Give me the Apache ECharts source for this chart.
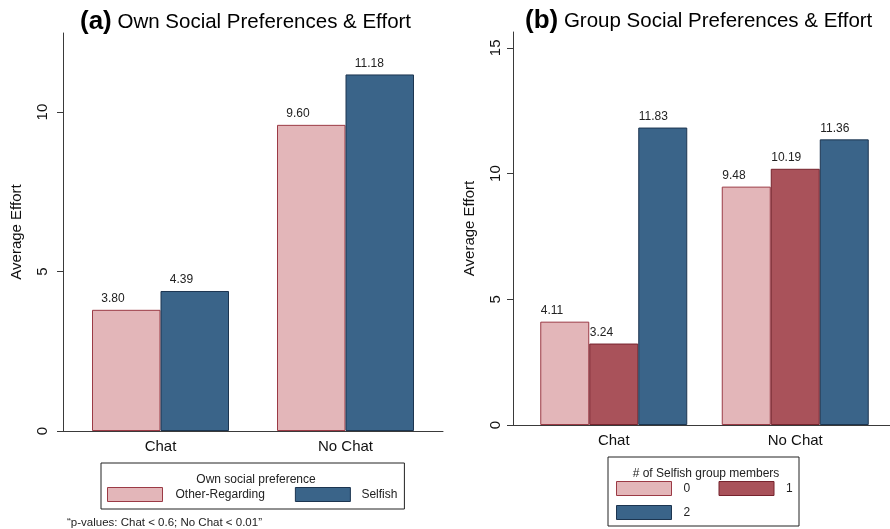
<!DOCTYPE html>
<html>
<head>
<meta charset="utf-8">
<script src="https://cdn.jsdelivr.net/npm/echarts@6/dist/echarts.min.js"></script>
<style>
html,body{margin:0;padding:0;background:#fff;}
#chart{width:890px;height:529px;}
</style>
</head>
<body>
<div id="chart"></div>
<script>
// ---- data ----
var categories = ['Chat', 'No Chat'];
var ownOtherRegarding = [3.80, 9.60];
var ownSelfish = [4.39, 11.18];
var groupZero = [4.11, 9.48];
var groupOne = [3.24, 10.19];
var groupTwo = [11.83, 11.36];
var ticksA = [0, 5, 10];
var ticksB = [0, 5, 10, 15];

var FONT = '"Liberation Sans", Arial, sans-serif';
var AX = '#3a3a3a';
var PINK = '#e3b6b9', PINK_B = '#9b3a45';
var BLUE = '#3a6489', BLUE_B = '#1c3550';
var RED = '#a9525a', RED_B = '#76232d';

var chart = echarts.init(document.getElementById('chart'));

function frameY(max, ticks, margin, nameGap) {
  return {
    type: 'value', min: 0, max: max,
    name: 'Average Effort', nameLocation: 'middle', nameGap: nameGap, nameRotate: 90,
    nameTextStyle: {fontFamily: FONT, fontSize: 15, color: '#111'},
    axisLine: {show: true, lineStyle: {color: AX, width: 1}},
    axisTick: {show: true, length: 6, customValues: ticks, lineStyle: {color: AX}},
    axisLabel: {show: true, rotate: 90, margin: margin, customValues: ticks,
      fontFamily: FONT, fontSize: 15, color: '#111'},
    splitLine: {show: false}
  };
}
function frameX() {
  return {
    type: 'value', min: 0, max: 1,
    axisLine: {show: true, onZero: false, lineStyle: {color: AX, width: 1}},
    axisTick: {show: false}, axisLabel: {show: false}, splitLine: {show: false}
  };
}
function barX() {
  return {
    type: 'category', data: categories,
    axisLine: {show: false}, axisTick: {show: false},
    axisLabel: {margin: 8, fontFamily: FONT, fontSize: 15, color: '#111'}
  };
}
function barY(max) {
  return {type: 'value', min: 0, max: max, show: false, splitLine: {show: false}};
}
function barSeries(name, data, xi, yi, fill, border, width, off) {
  return {
    type: 'bar', name: name, data: data, xAxisIndex: xi, yAxisIndex: yi,
    barWidth: width, barGap: '0%',
    itemStyle: {color: fill, borderColor: border, borderWidth: 1},
    label: {show: true, position: 'top', align: 'left', offset: [off, 0], distance: 5,
      fontFamily: FONT, fontSize: 12, color: '#222',
      formatter: function (p) { return p.value.toFixed(2); }},
    emphasis: {disabled: true}
  };
}

var maxA = 12.48, maxB = 15.63;
var titleRich = {
  b: {fontFamily: FONT, fontSize: 26, fontWeight: 'bold', color: '#000'},
  n: {fontFamily: FONT, fontSize: 20.5, fontWeight: 'normal', color: '#000'}
};

chart.setOption({
  animation: false,
  backgroundColor: '#fff',
  title: [
    {text: '{b|(a)} {n|Own Social Preferences & Effort}', left: 75, top: 4,
      textStyle: {fontWeight: 'normal', fontSize: 20.5, fontFamily: FONT, rich: titleRich}},
    {text: '{b|(b)} {n|Group Social Preferences & Effort}', left: 520, top: 3,
      textStyle: {fontWeight: 'normal', fontSize: 20.5, fontFamily: FONT, rich: titleRich}},
    {text: 'Own social preference', left: 251, top: 469, textAlign: 'center',
      textStyle: {fontFamily: FONT, fontSize: 12, fontWeight: 'normal', color: '#222'}},
    {text: '# of Selfish group members', left: 701, top: 463, textAlign: 'center',
      textStyle: {fontFamily: FONT, fontSize: 12, fontWeight: 'normal', color: '#222'}},
    {text: '\u201Cp-values: Chat < 0.6; No Chat < 0.01\u201D', left: 62, top: 512,
      textStyle: {fontFamily: FONT, fontSize: 11.5, fontWeight: 'normal', color: '#222'}}
  ],
  grid: [
    {left: 63, top: 33, width: 380, height: 398},
    {left: 513, top: 32, width: 377, height: 393},
    {left: 68, top: 33, width: 370, height: 398},
    {left: 523, top: 32, width: 363, height: 393}
  ],
  xAxis: [
    Object.assign(frameX(), {gridIndex: 0}),
    Object.assign(frameX(), {gridIndex: 1}),
    Object.assign(barX(), {gridIndex: 2}),
    Object.assign(barX(), {gridIndex: 3})
  ],
  yAxis: [
    Object.assign(frameY(maxA, ticksA, 13, 39), {gridIndex: 0}),
    Object.assign(frameY(maxB, ticksB, 10, 36), {gridIndex: 1}),
    Object.assign(barY(maxA), {gridIndex: 2}),
    Object.assign(barY(maxB), {gridIndex: 3})
  ],
  legend: [
    {
      left: 101, top: 463, orient: 'horizontal', selectedMode: false, icon: 'rect',
      padding: [24, 7, 7, 6], itemGap: 30, itemWidth: 55, itemHeight: 14,
      borderColor: '#222', borderWidth: 1,
      itemStyle: {borderWidth: 1},
      textStyle: {fontFamily: FONT, fontSize: 12, color: '#222', lineHeight: 14},
      data: [
        {name: 'Other-Regarding', textStyle: {width: 88, padding: [0, 0, 0, 8]}},
        {name: 'Selfish', textStyle: {width: 33, padding: [0, 0, 0, 6]}}
      ]
    },
    {
      left: 608, top: 457, orient: 'horizontal', selectedMode: false, width: 178, icon: 'rect',
      padding: [24, 6, 6, 8], itemGap: 9, itemWidth: 55, itemHeight: 14,
      borderColor: '#222', borderWidth: 1,
      itemStyle: {borderWidth: 1},
      textStyle: {fontFamily: FONT, fontSize: 12, color: '#222', lineHeight: 14},
      data: [
        {name: '0', textStyle: {width: 26, padding: [0, 0, 0, 7]}},
        {name: '1', textStyle: {width: 7, padding: [0, 0, 0, 7]}},
        {name: '2', textStyle: {width: 26, padding: [0, 0, 0, 7]}}
      ]
    }
  ],
  series: [
    barSeries('Other-Regarding', ownOtherRegarding, 2, 2, PINK, PINK_B, 68.5, -25),
    barSeries('Selfish', ownSelfish, 2, 2, BLUE, BLUE_B, 68.5, -25),
    barSeries('0', groupZero, 3, 3, PINK, PINK_B, 49, -24),
    barSeries('1', groupOne, 3, 3, RED, RED_B, 49, -24),
    barSeries('2', groupTwo, 3, 3, BLUE, BLUE_B, 49, -24)
  ]
});
</script>
</body>
</html>
